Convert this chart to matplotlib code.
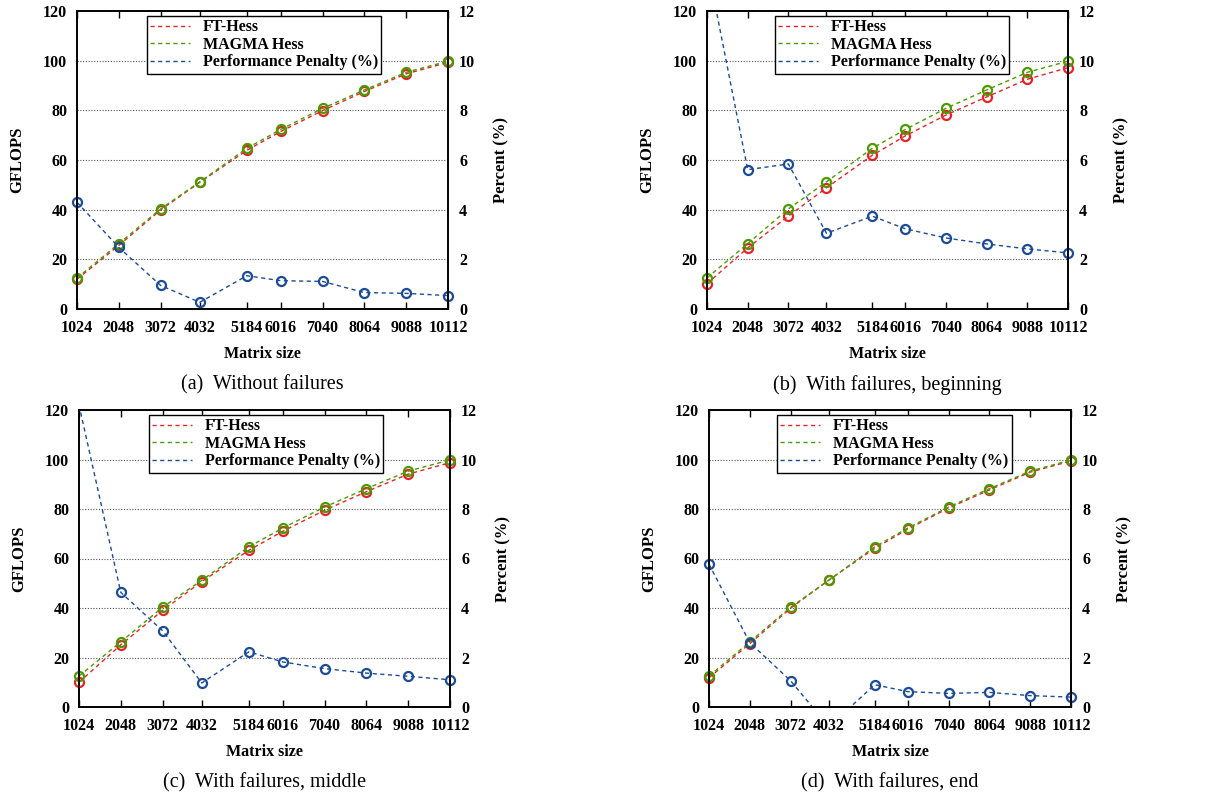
import matplotlib
matplotlib.use("Agg")
import matplotlib.pyplot as plt
from matplotlib.lines import Line2D
import numpy as np

plt.rcParams['font.family'] = ['Liberation Serif', 'DejaVu Serif']

# matrix sizes (x axis)
sizes = [1024, 2048, 3072, 4032, 5184, 6016, 7040, 8064, 9088, 10112]

# MAGMA Hess GFLOPS (same in every panel)
magma = [12.5, 26.3, 40.3, 51.2, 64.7, 72.3, 80.8, 88.2, 95.3, 99.8]

# FT-Hess GFLOPS per panel
ft_a = [12.0, 25.6, 39.9, 51.0, 63.9, 71.5, 79.9, 87.6, 94.7, 99.3]
ft_b = [10.2, 24.6, 37.4, 48.8, 61.9, 69.7, 78.1, 85.4, 92.5, 97.2]
ft_c = [10.0, 25.1, 39.0, 50.7, 63.3, 71.0, 79.5, 87.0, 94.1, 98.7]
ft_d = [11.8, 25.6, 39.9, 51.3, 64.1, 71.9, 80.4, 87.7, 94.9, 99.4]

# performance penalty (%) per panel
pen_a = [4.30, 2.48, 0.95, 0.27, 1.34, 1.14, 1.11, 0.66, 0.63, 0.54]
pen_b = [13.9, 5.61, 5.84, 3.05, 3.74, 3.23, 2.86, 2.62, 2.42, 2.26]
pen_c = [12.2, 4.63, 3.08, 0.97, 2.23, 1.82, 1.55, 1.37, 1.24, 1.10]
pen_d = [5.77, 2.60, 1.06, -0.8, 0.90, 0.62, 0.55, 0.59, 0.46, 0.40]

captions = ['(a)  Without failures', '(b)  With failures, beginning',
            '(c)  With failures, middle', '(d)  With failures, end']

RED = '#e3242b'
GREEN = '#4a9a00'
BLUE = '#1d4b94'
DASH = (0, (3.0, 2.5))

fig = plt.figure(figsize=(12.26, 8), dpi=100)
W, H = 1226.0, 800.0

# axes boxes in pixels: left, top, right, bottom
boxes = [(77, 11, 448, 309), (707, 11, 1068, 309),
         (79, 410, 450, 707), (709, 410, 1071, 707)]
ft_all = [ft_a, ft_b, ft_c, ft_d]
pen_all = [pen_a, pen_b, pen_c, pen_d]
xs = np.array(sizes)

for i in range(4):
    l, t, r, b = boxes[i]
    ax = fig.add_axes([l / W, 1 - b / H, (r - l) / W, (b - t) / H])
    ax2 = ax.twinx()

    ax.plot(sizes, ft_all[i], color=RED, ls=DASH, lw=1.0, marker='o',
            ms=6.5, mfc='none', mec=RED, mew=1.6, zorder=3, clip_on=False)
    ax.plot(sizes, magma, color=GREEN, ls=DASH, lw=1.0, marker='o',
            ms=6.5, mfc='none', mec=GREEN, mew=1.6, zorder=4, clip_on=False)

    pen = np.array(pen_all[i])
    ax2.plot(xs, pen, color=BLUE, ls=DASH, lw=1.0)
    ok = (pen >= 0) & (pen <= 12)
    ax2.plot(xs[ok], pen[ok], ls='none', marker='o', ms=6.5, mfc='none',
             mec=BLUE, mew=1.6, clip_on=False)

    ax.set_xlim(sizes[0], sizes[-1])
    ax.set_ylim(0, 120)
    ax2.set_ylim(0, 12)
    ax.set_xticks(sizes)
    ax.set_xticklabels([str(s) for s in sizes])
    ax.set_yticks(np.arange(0, 121, 20))
    ax2.set_yticks(np.arange(0, 13, 2))
    ax.yaxis.grid(True, ls=(0, (1, 1.5)), color='#555555', lw=0.8)
    ax.set_axisbelow(True)

    ax.tick_params(axis='x', direction='in', top=True, length=5, width=1,
                   labelsize=11.5, pad=8)
    ax.tick_params(axis='y', direction='in', length=0, labelsize=11.5, pad=7)
    ax2.tick_params(axis='y', direction='in', length=0, labelsize=11.5, pad=8)
    for lab in ax.get_xticklabels() + ax.get_yticklabels() + ax2.get_yticklabels():
        lab.set_fontweight('bold')
    for sp in list(ax.spines.values()) + list(ax2.spines.values()):
        sp.set_linewidth(1.2)

    ax.set_xlabel('Matrix size', fontsize=11.5, fontweight='bold', labelpad=7)
    ax.set_ylabel('GFLOPS', fontsize=12, fontweight='bold', labelpad=13)
    ax2.set_ylabel('Percent (%)', fontsize=12, fontweight='bold', labelpad=13)

    handles = [Line2D([], [], color=RED, ls=DASH, lw=1.0),
               Line2D([], [], color=GREEN, ls=DASH, lw=1.0),
               Line2D([], [], color=BLUE, ls=DASH, lw=1.0)]
    labels = ['FT-Hess', 'MAGMA Hess', 'Performance Penalty (%)']
    leg = ax2.legend(handles, labels, loc='upper left',
                     bbox_to_anchor=((147 - 77) / 371.0, 0.983), fancybox=False,
                     framealpha=1, edgecolor='black', fontsize=11.5,
                     handlelength=2.5, handletextpad=0.8, labelspacing=0.1,
                     borderpad=0.2, borderaxespad=0)
    leg.get_frame().set_linewidth(1.0)
    for txt in leg.get_texts():
        txt.set_fontweight('bold')

    fig.text((l + r) / 2 / W, 1 - (b + 76) / H, captions[i],
             ha='center', va='center', fontsize=14.5)

fig.savefig('out.png', dpi=100)
